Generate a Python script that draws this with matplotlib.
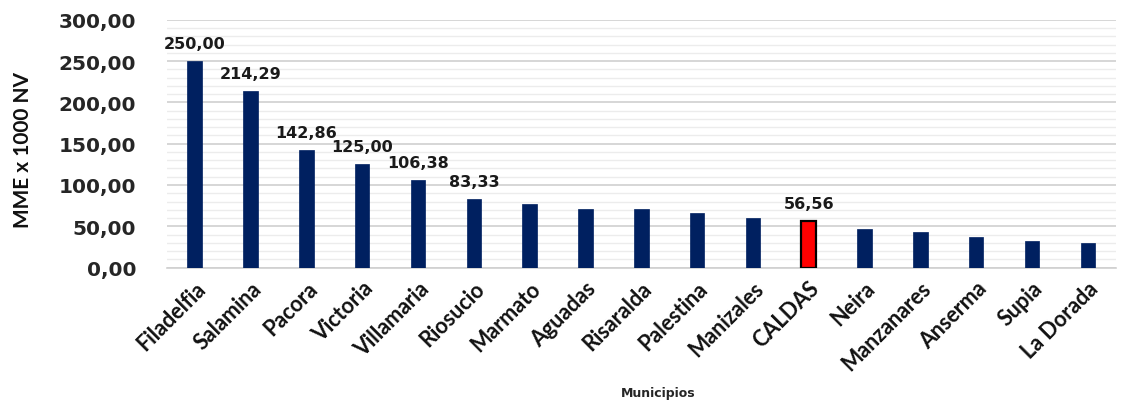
import matplotlib
matplotlib.use("Agg")
import matplotlib.pyplot as plt
from matplotlib.ticker import MultipleLocator, FuncFormatter

municipios = ["Filadelfia", "Salamina", "Pacora", "Victoria", "Villamaria", "Riosucio",
              "Marmato", "Aguadas", "Risaralda", "Palestina", "Manizales", "CALDAS",
              "Neira", "Manzanares", "Anserma", "Supia", "La Dorada"]
valores = [250.00, 214.29, 142.86, 125.00, 106.38, 83.33,
           77.3, 71.3, 71.3, 66.5, 60.5, 56.56,
           46.5, 43.3, 37.3, 32.5, 30.1]
etiquetas = {0: "250,00", 1: "214,29", 2: "142,86", 3: "125,00", 4: "106,38", 5: "83,33", 11: "56,56"}

fig = plt.figure(figsize=(11.35, 4.02), dpi=100)
ax = fig.add_axes([0.147, 0.332, 0.836, 0.616])

x = list(range(len(municipios)))
colors = ["#ff0000" if m == "CALDAS" else "#002060" for m in municipios]
edges = ["black" if m == "CALDAS" else "#002060" for m in municipios]
lws = [1.6 if m == "CALDAS" else 0.5 for m in municipios]
ax.bar(x, valores, width=0.26, color=colors, edgecolor=edges, linewidth=lws, zorder=3)

for i, t in etiquetas.items():
    ax.text(i, valores[i] + 12, t, ha="center", va="bottom", fontsize=11.5,
            fontweight="bold", family="DejaVu Sans", color="#1a1a1a", zorder=4)

ax.set_ylim(0, 300)
ax.set_xlim(-0.5, len(municipios) - 0.5)
ax.yaxis.set_major_locator(MultipleLocator(50))
ax.yaxis.set_minor_locator(MultipleLocator(10))
ax.yaxis.set_major_formatter(FuncFormatter(lambda v, p: f"{v:.2f}".replace(".", ",")))
ax.grid(axis="y", which="major", color="#d0d0d0", linewidth=1.2, zorder=0)
ax.grid(axis="y", which="minor", color="#ececec", linewidth=1.0, zorder=0)
ax.tick_params(axis="y", which="both", length=0, pad=22)
ax.tick_params(axis="x", length=0, pad=7)
for lab in ax.get_yticklabels():
    lab.set_fontsize(14.5)
    lab.set_fontweight("bold")
    lab.set_family("DejaVu Sans")
    lab.set_color("#262626")

ax.set_xticks(x)
ax.set_xticklabels(municipios, rotation=45, ha="right", rotation_mode="anchor",
                   fontsize=15.5, fontweight="bold", family="Lato", color="#111111")
for s in ["top", "right", "left"]:
    ax.spines[s].set_visible(False)
ax.spines["bottom"].set_color("#d0d0d0")
ax.spines["bottom"].set_linewidth(1.2)

fig.text(0.02, 0.627, "MME x 1000 NV", rotation=90, ha="center", va="center",
         fontsize=15, family="Lato", fontweight="bold", color="#111111")
fig.text(0.58, 0.005, "Municipios", ha="center", va="bottom", fontsize=9,
         fontweight="bold", family="DejaVu Sans", color="#262626")

fig.savefig("out.png", dpi=100)
